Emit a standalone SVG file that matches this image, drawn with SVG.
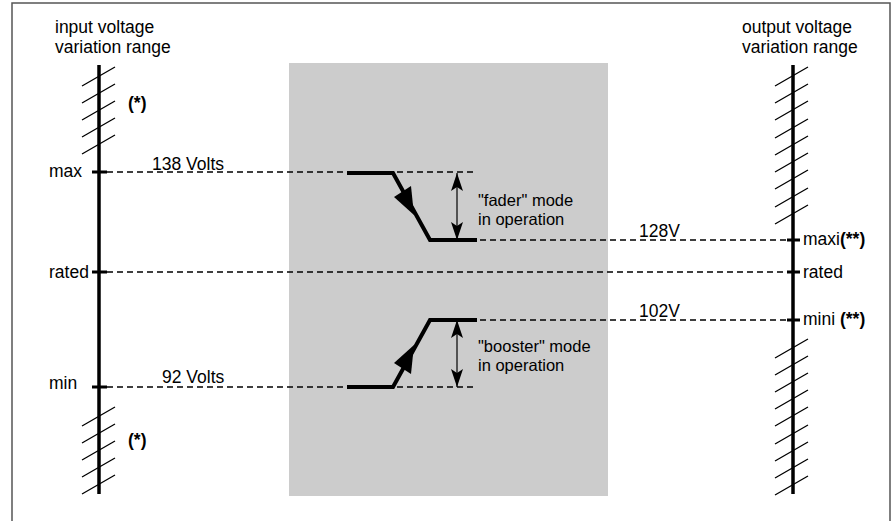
<svg xmlns="http://www.w3.org/2000/svg" width="895" height="521" viewBox="0 0 895 521">
<style>
text{font-family:"Liberation Sans",Arial,Helvetica,sans-serif;font-size:17.5px;fill:#000}
.b{font-weight:bold}
.m{font-size:16.5px}
.axis{stroke:#000;stroke-width:3.5;fill:none}
.tick{stroke:#000;stroke-width:3;fill:none}
.hatch{stroke:#000;stroke-width:1.3;fill:none}
.dash{stroke:#000;stroke-width:1.3;stroke-dasharray:6 4;fill:none}
.curve{stroke:#000;stroke-width:4;fill:none;stroke-linejoin:miter}
.dbl{stroke:#000;stroke-width:1.2;fill:none;marker-start:url(#ah);marker-end:url(#ah)}
</style>
<defs>
<marker id="ah" viewBox="0 0 18 12" refX="18" refY="6" markerWidth="18" markerHeight="12" markerUnits="userSpaceOnUse" orient="auto-start-reverse">
<path d="M0,0 L18,6 L0,12 L4,6 z" fill="#000"/>
</marker>
</defs>
<rect width="895" height="521" fill="#fff"/>
<rect id="frame" x="12" y="3" width="878" height="540" fill="none" stroke="#555" stroke-width="1.5"/>
<rect id="panel" x="289" y="63" width="319" height="433" fill="#cccccc"/>

<g id="connectors">
<line class="dash" x1="107" y1="172" x2="477" y2="172"/>
<line class="dash" x1="430" y1="240" x2="788" y2="240"/>
<line class="dash" x1="107" y1="272" x2="788" y2="272"/>
<line class="dash" x1="430" y1="320" x2="788" y2="320"/>
<line class="dash" x1="107" y1="387" x2="477" y2="387"/>
</g>

<g id="input-axis">
<line class="axis" x1="99" y1="65" x2="99" y2="494"/>
<path class="hatch" d="M82,86 L115,67 M82,103 L115,84 M82,120 L115,101 M82,137 L115,118 M82,154 L115,135"/>
<path class="hatch" d="M82,426 L115,407 M82,443 L115,424 M82,460 L115,441 M82,477 L115,458 M82,494 L115,475"/>
<path class="tick" d="M92,172 H107 M92,272 H107 M92,387 H107"/>
<text x="55" y="33">input voltage</text>
<text x="55" y="53">variation range</text>
<text class="b" x="128" y="109">(*)</text>
<text class="b" x="128" y="446">(*)</text>
<text x="49" y="177">max</text>
<text x="49" y="278">rated</text>
<text x="49" y="389">min</text>
<text x="152" y="170">138 Volts</text>
<text x="162" y="383">92 Volts</text>
</g>

<g id="output-axis">
<line class="axis" x1="793" y1="65" x2="793" y2="494"/>
<path class="hatch" d="M775,86 L808,67 M775,103 L808,84 M775,120 L808,101 M775,138 L808,119 M775,155 L808,136 M775,172 L808,153 M775,189 L808,170 M775,207 L808,188 M775,224 L808,205"/>
<path class="hatch" d="M775,358 L808,339 M775,375 L808,356 M775,392 L808,373 M775,409 L808,390 M775,426 L808,407 M775,444 L808,425 M775,461 L808,442 M775,478 L808,459 M775,495 L808,476"/>
<path class="tick" d="M787,240 H800 M787,272 H800 M787,320 H800"/>
<text x="742" y="33">output voltage</text>
<text x="742" y="53">variation range</text>
<text x="803" y="245">maxi<tspan class="b">(**)</tspan></text>
<text x="803" y="278">rated</text>
<text x="803" y="325">mini <tspan class="b">(**)</tspan></text>
<text x="639" y="237">128V</text>
<text x="639" y="317">102V</text>
</g>

<g id="fader">
<polyline class="curve" points="347,173 393,173 430,240 477,240"/>
<polygon points="414,215 394,197 411,186" fill="#000"/>
<line class="dbl" x1="457" y1="173" x2="457" y2="240"/>
<text class="m" x="478" y="206">"fader" mode</text>
<text class="m" x="478" y="225">in operation</text>
</g>

<g id="booster">
<polyline class="curve" points="347,387 393,387 430,320 477,320"/>
<polygon points="414,345 394,363 411,374" fill="#000"/>
<line class="dbl" x1="457" y1="320" x2="457" y2="387"/>
<text class="m" x="478" y="352">"booster" mode</text>
<text class="m" x="478" y="371">in operation</text>
</g>
</svg>
